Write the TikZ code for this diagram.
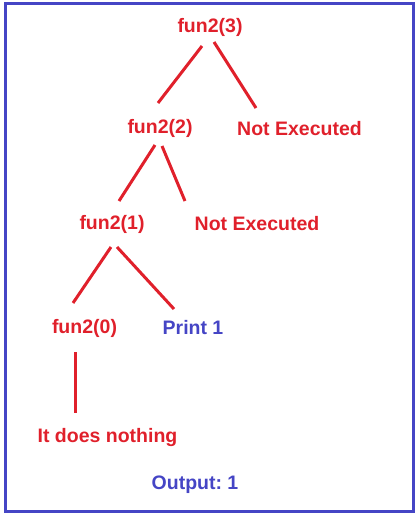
\documentclass[tikz,border=0pt]{standalone}
\usepackage{fontspec}
\setmainfont{Liberation Sans}
\usetikzlibrary{calc}
\definecolor{tred}{HTML}{E0202B}
\definecolor{tblue}{HTML}{4545C5}
\frenchspacing
\begin{document}
\begin{tikzpicture}[x=1pt,y=-1pt,
  lbl/.style={font=\fontsize{19.5}{22}\selectfont\bfseries, inner sep=0pt, text=tred},
  blbl/.style={lbl, text=tblue},
  edge/.style={draw=tred, line width=3pt}]
\useasboundingbox (0,0) rectangle (418,515);
\draw[tblue, line width=3pt] (5.5,3.5) rectangle (413.5,511);
\node[lbl] (f3) at (210,27) {fun2(3)};
\node[lbl] (f2) at (160,128) {fun2(2)};
\node[lbl] (ne1) at (299.5,129) {Not Executed};
\node[lbl] (f1) at (112,224) {fun2(1)};
\node[lbl] (ne2) at (257,224) {Not Executed};
\node[lbl] (f0) at (84.5,328) {fun2(0)};
\node[blbl] (p1) at (193,328) {Print 1};
\node[lbl] (nothing) at (107.5,437) {It does nothing};
\node[blbl] (out) at (195,485) {Output: 1};
\draw[edge] ($(f3)+(-8,19)$) -- ($(f2)+(-2,-25)$);
\draw[edge] ($(f3)+(4,15)$) -- ($(ne1)+(-43.5,-21)$);
\draw[edge] ($(f2)+(-5,17)$) -- ($(f1)+(7,-23)$);
\draw[edge] ($(f2)+(2,18)$) -- ($(ne2)+(-72,-23)$);
\draw[edge] ($(f1)+(-1,23)$) -- ($(f0)+(-11.5,-25)$);
\draw[edge] ($(f1)+(5,23)$) -- ($(p1)+(-19,-19)$);
\draw[edge] ($(f0)+(-8.8,24)$) -- ($(nothing)+(-31.8,-24)$);
\end{tikzpicture}
\end{document}
